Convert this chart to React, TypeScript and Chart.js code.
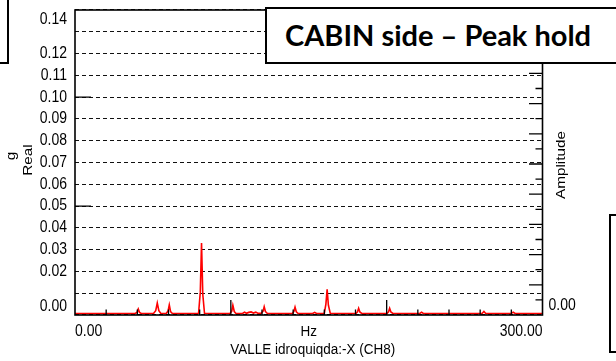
import React, { useEffect, useRef } from "react";
import { Chart, registerables } from "chart.js";

Chart.register(...registerables);

// Peak-hold spectrum, real part (g) vs frequency (Hz)
const freqHz = [
  0, 38.5, 39.8, 40.6, 41.4, 42.5, 50.5, 51.8, 52.8, 53.8, 55,
  58.5, 59.7, 60.5, 61.3, 62.5, 79.3, 80.4, 81.2, 82.0, 83.1,
  99.5, 100.6, 101.3, 102.2, 103.3, 107.5, 108.8, 110, 111.5, 113, 114.5, 116, 117.3,
  119.5, 120.7, 121.4, 122.2, 123.5, 139.5, 140.5, 141.2, 142, 143.2,
  152.5, 153.8, 155, 160, 161, 161.8, 162.6, 163.8,
  180.3, 181.3, 182, 182.8, 184, 200.2, 201.2, 201.9, 202.7, 204,
  221.3, 222.4, 223.5, 261.2, 262.4, 263.6, 280, 281.2, 282.4, 300,
];
const realG = [
  0.0007, 0.0007, 0.0012, 0.0027, 0.0012, 0.0007, 0.0008, 0.002, 0.0055, 0.002, 0.0008,
  0.0007, 0.0018, 0.0046, 0.0016, 0.0007, 0.0008, 0.0105, 0.033, 0.0095, 0.0008,
  0.0007, 0.0018, 0.0045, 0.0016, 0.0007, 0.0007, 0.0013, 0.0008, 0.0012, 0.0014, 0.0009, 0.0013, 0.0008,
  0.0008, 0.0018, 0.0038, 0.0016, 0.0007, 0.0007, 0.0017, 0.0036, 0.0015, 0.0007,
  0.0007, 0.0012, 0.0007, 0.0008, 0.005, 0.0118, 0.0045, 0.0008,
  0.0007, 0.0015, 0.0031, 0.0014, 0.0007, 0.0007, 0.0015, 0.0031, 0.0014, 0.0007,
  0.0007, 0.0013, 0.0007, 0.0007, 0.0016, 0.0007, 0.0007, 0.0013, 0.0007, 0.0007,
];

// Left (Real, g) axis
const yMin = 0;
const yMax = 0.14;
const yGridStep = 0.01;
const yTickLabels = [0.14, 0.12, 0.11, 0.1, 0.09, 0.08, 0.07, 0.06, 0.05, 0.04, 0.03, 0.02, 0.0];
const yMajorTicks = [0.05, 0.1];

// Frequency axis
const xMin = 0;
const xMax = 300;
const xTickLabels = [0, 300];
const xMinorTicks = [20, 40, 60, 80, 120, 140, 160, 180, 220, 240, 260, 280];
const xMajorTicks = [100, 200];

// Right (Amplitude) axis
const ampMax = 0.202;
const ampMinorTicks = [0.01, 0.03, 0.05, 0.07, 0.09, 0.11, 0.13, 0.15, 0.17, 0.19];
const ampMajorTicks = [0.02, 0.04, 0.06, 0.08, 0.1, 0.12, 0.14, 0.16, 0.18, 0.2];
const ampTickLabels = [0];

const FONT = '"Liberation Sans", Arial, sans-serif';
// glyphs are drawn slightly taller than wide
const TEXT_STRETCH = 1.13;

const axesPlugin = {
  id: "spectrumAxes",
  afterDatasetsDraw(chart: any) {
    const { ctx, chartArea: a, scales } = chart;
    const x = scales.x;
    const y = scales.y;
    const amp = scales.amp;
    ctx.save();
    ctx.strokeStyle = "#000";

    // inward tick marks
    ctx.lineWidth = 1.3;
    ctx.beginPath();
    for (const v of xMinorTicks) {
      const px = x.getPixelForValue(v);
      ctx.moveTo(px, a.bottom);
      ctx.lineTo(px, a.bottom - 5.5);
    }
    for (const v of xMajorTicks) {
      const px = x.getPixelForValue(v);
      ctx.moveTo(px, a.bottom);
      ctx.lineTo(px, a.bottom - 15);
    }
    for (const v of yMajorTicks) {
      const py = y.getPixelForValue(v);
      ctx.moveTo(a.left, py);
      ctx.lineTo(a.left + 16, py);
    }
    for (const v of ampMinorTicks) {
      const py = amp.getPixelForValue(v);
      ctx.moveTo(a.right, py);
      ctx.lineTo(a.right - 7, py);
    }
    for (const v of ampMajorTicks) {
      const py = amp.getPixelForValue(v);
      ctx.moveTo(a.right, py);
      ctx.lineTo(a.right - 13.5, py);
    }
    ctx.stroke();

    // plot frame
    ctx.lineWidth = 1.6;
    ctx.strokeRect(a.left, a.top, a.right - a.left, a.bottom - a.top);

    ctx.fillStyle = "#000";
    const label = (text: string, px: number, py: number, align: CanvasTextAlign) => {
      ctx.save();
      ctx.translate(px, py);
      ctx.scale(1, TEXT_STRETCH);
      ctx.textAlign = align;
      ctx.textBaseline = "middle";
      ctx.fillText(text, 0, 0);
      ctx.restore();
    };
    const vertical = (text: string, bx: number, cy: number) => {
      ctx.save();
      ctx.translate(bx, cy);
      ctx.scale(1, TEXT_STRETCH);
      ctx.rotate(-Math.PI / 2);
      ctx.textBaseline = "alphabetic";
      ctx.textAlign = "center";
      ctx.fillText(text, 0, 0);
      ctx.restore();
    };

    // tick labels
    ctx.font = `14px ${FONT}`;
    for (const v of yTickLabels) {
      const py = Math.min(Math.max(y.getPixelForValue(v), a.top + 10), a.bottom - 8.5);
      label(v.toFixed(2), a.left - 8, py, "right");
    }
    xTickLabels.forEach((v, i) => {
      label(v.toFixed(2), x.getPixelForValue(v), a.bottom + 17, i === 0 ? "left" : "right");
    });
    for (const v of ampTickLabels) {
      const py = Math.min(amp.getPixelForValue(v), a.bottom - 9);
      label(v.toFixed(2), a.right + 6, py, "left");
    }

    // axis titles
    ctx.font = `13.5px ${FONT}`;
    const mid = (a.left + a.right) / 2;
    label("Hz", mid, a.bottom + 16.5, "center");
    label("VALLE idroquiqda:-X (CH8)", mid + 4, a.bottom + 34.5, "center");
    vertical("g", 15, 156);
    vertical("Real", 31.5, 160);
    vertical("Amplitude", a.right + 22.5, 165);

    ctx.restore();
  },
};

export default function App() {
  const canvasRef = useRef<HTMLCanvasElement | null>(null);

  useEffect(() => {
    if (!canvasRef.current) return;
    const chart = new Chart(canvasRef.current, {
      type: "line",
      data: {
        datasets: [
          {
            label: "Real",
            data: freqHz.map((f, i) => ({ x: f, y: realG[i] })),
            borderColor: "#ff0000",
            borderWidth: 1.6,
            pointRadius: 0,
            tension: 0,
            fill: false,
          },
        ],
      },
      options: {
        animation: false,
        responsive: false,
        devicePixelRatio: 1,
        layout: { padding: { left: 75, right: 73.5, top: 10, bottom: 46 } },
        plugins: {
          legend: { display: false },
          tooltip: { enabled: false },
          title: { display: false },
        },
        scales: {
          x: { type: "linear", min: xMin, max: xMax, display: false },
          y: {
            type: "linear",
            min: yMin,
            max: yMax,
            ticks: { display: false, stepSize: yGridStep },
            grid: { color: "#111", lineWidth: 1.1, drawTicks: false },
            border: { display: false, dash: [4, 3] },
            afterFit: (s: any) => {
              s.width = 0;
            },
          },
          amp: { type: "linear", position: "right", min: 0, max: ampMax, display: false },
        },
      },
      plugins: [axesPlugin],
    });
    return () => chart.destroy();
  }, []);

  const box: React.CSSProperties = {
    position: "absolute",
    boxSizing: "border-box",
    border: "2px solid #000",
    background: "#fff",
  };

  return (
    <div
      style={{
        position: "fixed",
        left: 0,
        top: 0,
        width: 616,
        height: 361,
        overflow: "hidden",
        background: "#fff",
      }}
    >
      <canvas ref={canvasRef} width={616} height={361} style={{ display: "block" }} />
      <div style={{ ...box, left: -12, top: -12, width: 21, height: 76 }} />
      <div
        style={{
          ...box,
          left: 265,
          top: 7,
          width: 400,
          height: 57,
          display: "flex",
          alignItems: "center",
          paddingLeft: 18,
          paddingBottom: 2,
          fontFamily: "Lato, 'Open Sans', sans-serif",
          fontWeight: 700,
          fontSize: 29,
          color: "#000",
          whiteSpace: "nowrap",
        }}
      >
        CABIN side – Peak hold
      </div>
      <div style={{ ...box, left: 609, top: 214, width: 20, height: 139 }} />
    </div>
  );
}
